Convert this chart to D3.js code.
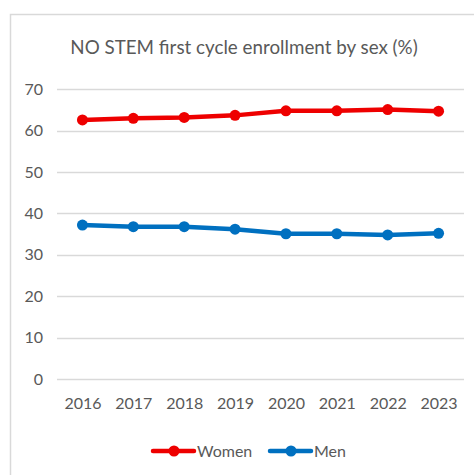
<!DOCTYPE html>
<html><head><meta charset="utf-8">
<script src="https://cdn.jsdelivr.net/npm/d3@7"></script>
<style>html,body{margin:0;padding:0;background:#fff;}svg{display:block;}</style>
</head><body>
<svg id="c" width="474" height="475"></svg>
<script>
const years = ["2016","2017","2018","2019","2020","2021","2022","2023"];
const women = [62.6, 63.0, 63.2, 63.7, 64.8, 64.8, 65.1, 64.7];
const men = [37.2, 36.8, 36.8, 36.2, 35.1, 35.1, 34.8, 35.2];
const yTicks = [0, 10, 20, 30, 40, 50, 60, 70];
const seriesNames = ["Women", "Men"];
const seriesColors = ["#EE0000", "#0070C0"];
const title = "NO STEM first cycle enrollment by sex (%)";

const svg = d3.select("#c");
const font = "Lato, 'Open Sans', sans-serif";
const gray = "#595959";

// chart frame
svg.append("path").attr("d", "M10.5,475 L10.5,14.5 L474,14.5")
  .attr("fill", "none").attr("stroke", "#d9d9d9").attr("stroke-width", 1.5);

const x = d3.scalePoint().domain(years).range([57, 464]).padding(0.5);
const y = d3.scaleLinear().domain([0, 70]).range([379, 89.3]);

svg.append("text").attr("x", 244).attr("y", 54).attr("text-anchor", "middle")
  .attr("font-family", font).attr("font-size", 18.8).attr("fill", gray).text(title);

// gridlines
svg.append("g").selectAll("line").data(yTicks).join("line")
  .attr("x1", 57).attr("x2", 464)
  .attr("y1", d => Math.round(y(d)) + 0.5).attr("y2", d => Math.round(y(d)) + 0.5)
  .attr("stroke", "#d9d9d9").attr("stroke-width", 1.5);

// y axis labels
const ya = svg.append("g").attr("transform", "translate(43,0)")
  .call(d3.axisLeft(y).tickValues(yTicks).tickSize(0).tickPadding(0));
ya.select(".domain").remove();
ya.selectAll("text").attr("font-family", font).attr("font-size", 16).attr("fill", gray);

// x axis labels
const xa = svg.append("g").attr("transform", "translate(0,398)")
  .call(d3.axisBottom(x).tickSize(0).tickPadding(0));
xa.select(".domain").remove();
xa.selectAll("text").attr("font-family", font).attr("font-size", 16).attr("fill", gray);

const data = [women, men];
const line = d3.line().x((d, i) => x(years[i])).y(d => y(d));
data.forEach((vals, k) => {
  svg.append("path").datum(vals).attr("d", line).attr("fill", "none")
    .attr("stroke", seriesColors[k]).attr("stroke-width", 4.5).attr("stroke-linejoin", "round");
  svg.append("g").selectAll("circle").data(vals).join("circle")
    .attr("cx", (d, i) => x(years[i])).attr("cy", d => y(d)).attr("r", 5.5)
    .attr("fill", seriesColors[k]);
});

// legend
const legX = [153, 270];
seriesNames.forEach((n, k) => {
  const g = svg.append("g").attr("transform", `translate(${legX[k]},451)`);
  g.append("line").attr("x1", 0).attr("x2", 41).attr("y1", 0).attr("y2", 0)
    .attr("stroke", seriesColors[k]).attr("stroke-width", 4.5).attr("stroke-linecap", "round");
  g.append("circle").attr("cx", 21).attr("cy", 0).attr("r", 5.5).attr("fill", seriesColors[k]);
  g.append("text").attr("x", 44).attr("y", 5.5).attr("font-family", font)
    .attr("font-size", 16).attr("fill", gray).text(n);
});
</script>
</body></html>
